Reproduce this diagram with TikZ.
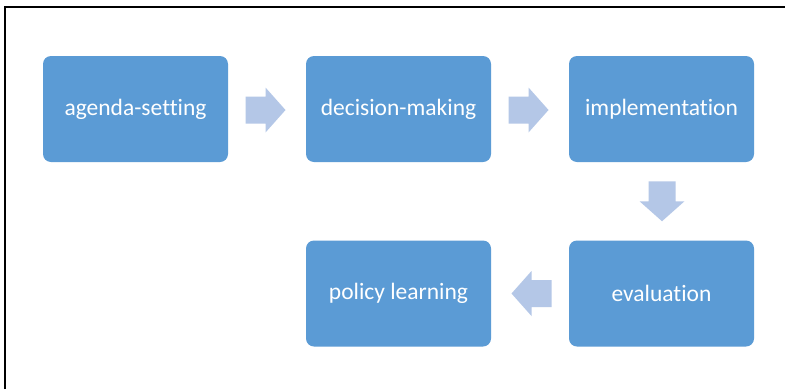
\documentclass[tikz,border=0pt]{standalone}
\usepackage{fontspec}
\setmainfont{Carlito}[Ligatures=NoCommon]
\usetikzlibrary{calc}
\definecolor{boxblue}{HTML}{5B9BD5}
\definecolor{arrowblue}{HTML}{B4C7E7}
\tikzset{
  stagebox/.style={fill=boxblue, draw=none, rounded corners=8pt, minimum width=185pt, minimum height=106pt, inner sep=0pt, text=white, font=\fontsize{23.5}{28}\selectfont},
  blockarrow/.pic={\fill[arrowblue] (-20,-13.5) -- (0,-13.5) -- (0,-22.5) -- (20,0) -- (0,22.5) -- (0,13.5) -- (-20,13.5) -- cycle;},
  framerule/.style={line width=1.6pt, black}
}
\begin{document}
\begin{tikzpicture}[x=1pt,y=-1pt]
\useasboundingbox (0,0) rectangle (785,389);
\fill[white] (0,0) rectangle (785,389);
\draw[framerule] (5,389) coordinate (fbl) -- (5,6.8) coordinate (ftl) -- (785,6.8) coordinate (ftr);
\node[stagebox] (a) at (135.5,109) {agenda-setting};
\node[stagebox] (b) at (398.5,109) {decision-making};
\node[stagebox] (c) at (661.5,109) {implementation};
\node[stagebox] (e) at (661.5,293.5) {evaluation};
\node[stagebox] (d) at (398.5,293.5) {policy learning};
\coordinate (ab) at ($(a.east)!0.5!(b.west)+(-1.5,1)$);
\coordinate (bc) at ($(b.east)!0.5!(c.west)+(-1.5,1)$);
\coordinate (ce) at ($(c.south)!0.5!(e.north)+(0.5,0)$);
\coordinate (ed) at ($(d.east)!0.5!(e.west)+(1.5,0)$);
\pic at (ab) {blockarrow};
\pic at (bc) {blockarrow};
\pic[rotate=-90] at (ce) {blockarrow};
\pic[rotate=180] at (ed) {blockarrow};
\end{tikzpicture}
\end{document}
